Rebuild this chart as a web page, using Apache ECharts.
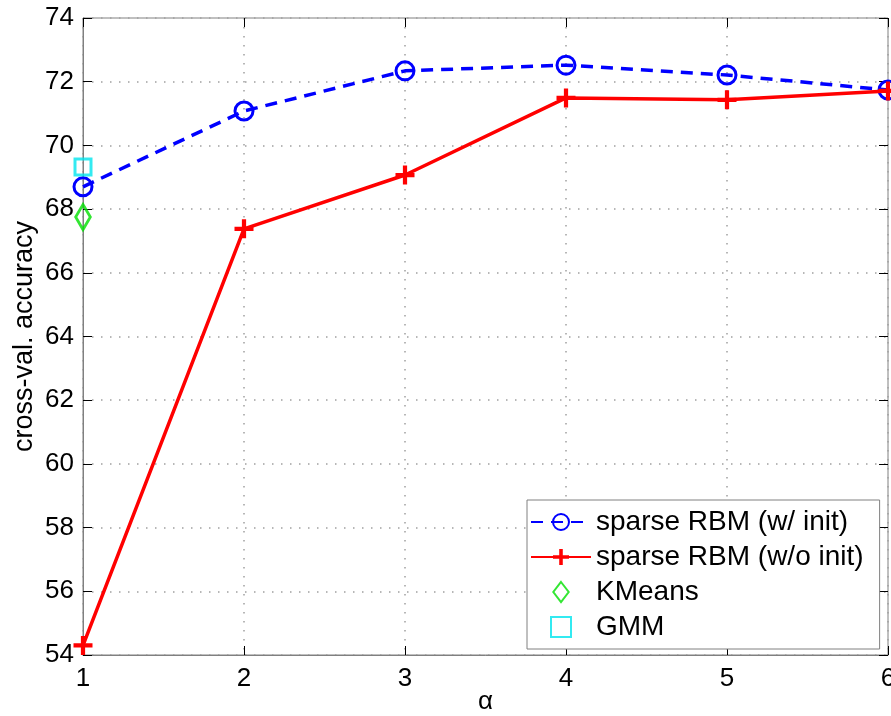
<!DOCTYPE html>
<html><head><meta charset="utf-8">
<script src="https://cdn.jsdelivr.net/npm/echarts@6/dist/echarts.min.js"></script>
<style>html,body{margin:0;padding:0;background:#fff}#c{width:891px;height:716px}</style>
</head><body><div id="c"></div>
<script>
var alphas = [1, 2, 3, 4, 5, 6];
var withInit = [68.7, 71.08, 72.34, 72.52, 72.21, 71.74];
var withoutInit = [54.3, 67.38, 69.07, 71.49, 71.43, 71.71];
var kmeans = [[1, 67.75]];
var gmm = [[1, 69.32]];
var seriesNames = ['sparse RBM (w/ init)', 'sparse RBM (w/o init)', 'KMeans', 'GMM'];

var font = 'Liberation Sans, Arial, sans-serif';
var plus = 'path://M0,7H7V0H11V7H18V11H11V18H7V11H0Z';
var diamond = 'path://M10,0L20,13L10,26L0,13Z';
var square = 'path://M0,0H10V10H0Z';
var chart = echarts.init(document.getElementById('c'));
var gridLine = {show: true, lineStyle: {color: '#a0a0a0', type: [1.5, 7.5], width: 1.5}};
var tick = {show: true, inside: true, length: 9, lineStyle: {color: '#000', width: 1}};
chart.setOption({
  backgroundColor: '#fff',
  animation: false,
  grid: {left: 83, right: 3, top: 18, bottom: 61, show: true, borderColor: '#808080', borderWidth: 1,
         containLabel: false, outerBoundsMode: 'none'},
  xAxis: [{
    type: 'value', min: 1, max: 6, interval: 1,
    name: 'α', nameLocation: 'middle', nameGap: 34, nameMoveOverlap: false,
    nameTextStyle: {fontFamily: font, fontSize: 26, color: '#000'},
    axisLine: {show: true, lineStyle: {color: '#808080'}},
    axisTick: tick,
    axisLabel: {fontFamily: font, fontSize: 26, color: '#000', margin: 11, hideOverlap: false},
    splitLine: gridLine
  }, {
    type: 'value', min: 1, max: 6, interval: 1, position: 'top',
    axisLine: {show: false}, axisLabel: {show: false}, splitLine: {show: false},
    axisTick: tick
  }],
  yAxis: [{
    type: 'value', min: 54, max: 74, interval: 2,
    name: 'cross-val. accuracy', nameLocation: 'middle', nameGap: 45, nameRotate: 90, nameMoveOverlap: false,
    nameTextStyle: {fontFamily: font, fontSize: 27, color: '#000'},
    axisLine: {show: true, lineStyle: {color: '#808080'}},
    axisTick: tick,
    axisLabel: {fontFamily: font, fontSize: 26, color: '#000', margin: 9},
    splitLine: gridLine
  }, {
    type: 'value', min: 54, max: 74, interval: 2, position: 'right',
    axisLine: {show: false}, axisLabel: {show: false}, splitLine: {show: false},
    axisTick: tick
  }],
  legend: {
    left: 527, top: 500, orient: 'vertical',
    backgroundColor: '#fff', borderColor: '#808080', borderWidth: 1,
    padding: [8, 16, 8, 3], itemGap: 7, itemWidth: 60, itemHeight: 20,
    textStyle: {fontFamily: font, fontSize: 28, color: '#000'},
    data: seriesNames
  },
  series: [{
    name: seriesNames[0], type: 'line',
    data: alphas.map(function (a, i) { return [a, withInit[i]]; }),
    symbol: 'circle', symbolSize: 18, showAllSymbol: true,
    lineStyle: {color: '#0000ff', width: 3.5, type: [12, 8]},
    itemStyle: {color: 'rgba(0,0,0,0)', borderColor: '#0000ff', borderWidth: 3},
    z: 3
  }, {
    name: seriesNames[1], type: 'line',
    data: alphas.map(function (a, i) { return [a, withoutInit[i]]; }),
    symbol: plus, symbolSize: 19, showAllSymbol: true,
    lineStyle: {color: '#ff0000', width: 3.5},
    itemStyle: {color: '#ff0000'},
    z: 4
  }, {
    name: seriesNames[2], type: 'scatter', data: kmeans,
    symbol: diamond, symbolSize: [19, 25], symbolKeepAspect: true,
    itemStyle: {color: 'rgba(0,0,0,0)', borderColor: '#00e000', borderWidth: 3},
    z: 5
  }, {
    name: seriesNames[3], type: 'scatter', data: gmm,
    symbol: square, symbolSize: 16, symbolKeepAspect: true,
    itemStyle: {color: 'rgba(0,0,0,0)', borderColor: '#00e5ee', borderWidth: 3},
    z: 5
  }]
});
</script></body></html>
